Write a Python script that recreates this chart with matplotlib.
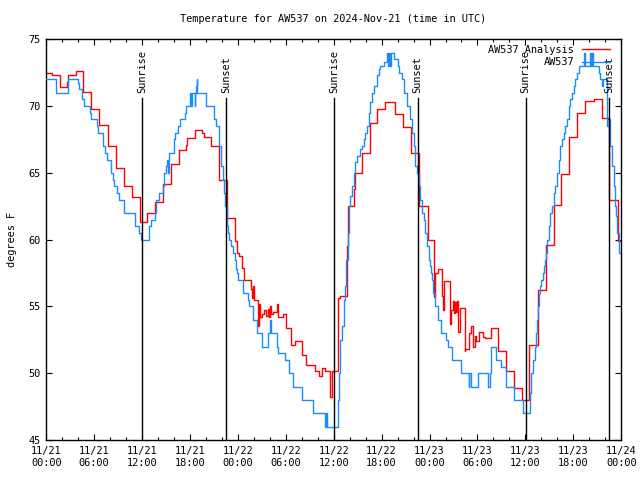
import matplotlib
matplotlib.use("Agg")
import matplotlib.pyplot as plt
import numpy as np

# ── Data (hours since 2024-11-21 00:00 UTC, degrees F) ───────────────────────
obs_hours = [0.0, 1.25, 2.67, 3.96, 4.08, 4.46, 4.79, 5.54, 5.63, 6.33, 6.46,
             7.08, 7.38, 7.58, 8.13, 8.33, 8.54, 8.88, 9.08, 9.71, 9.79, 11.17,
             11.58, 11.83, 12.92, 13.17, 13.58, 13.75, 14.17, 14.58, 14.75, 15.0,
             15.17, 15.25, 15.33, 16.0, 16.17, 16.5, 16.8, 17.42, 17.54, 18.04,
             18.1, 18.2, 18.6, 18.67, 18.75, 18.83, 18.92, 20.0, 20.96, 21.25,
             21.58, 21.83, 22.08, 22.29, 22.42, 22.63, 22.75, 22.92, 23.17, 23.33,
             23.58, 23.75, 23.9, 24.0, 24.69, 25.31, 25.43, 25.85, 26.35, 26.98,
             27.81, 28.02, 28.15, 28.94, 29.07, 29.94, 30.44, 30.94, 31.99, 33.45,
             34.95, 35.0, 35.1, 36.55, 36.63, 36.83, 37.04, 37.25, 37.46, 37.58,
             37.75, 37.88, 38.08, 38.29, 38.5, 38.71, 38.92, 39.25, 39.54, 39.75,
             39.96, 40.17, 40.38, 40.58, 40.79, 41.0, 41.42, 41.63, 41.83, 42.25,
             42.67, 42.8, 42.9, 43.1, 43.2, 43.5, 44.0, 44.17, 44.5, 44.79, 45.17,
             45.5, 45.79, 46.0, 46.21, 46.42, 46.63, 46.83, 47.04, 47.25, 47.46,
             47.67, 47.88, 48.0, 48.13, 48.25, 48.42, 48.67, 49.0, 49.46, 50.0,
             50.33, 50.83, 51.92, 52.92, 53.0, 53.17, 54.04, 55.33, 55.58, 55.71,
             56.33, 56.96, 57.58, 58.63, 59.75, 60.58, 60.75, 60.92, 61.17, 61.33,
             61.46, 61.58, 61.75, 61.88, 62.0, 62.17, 62.29, 62.42, 62.58, 62.71,
             62.92, 63.13, 63.33, 63.54, 63.75, 63.96, 64.17, 64.38, 64.58, 64.79,
             65.0, 65.21, 65.42, 65.63, 65.83, 66.04, 66.25, 66.46, 66.67, 67.3,
             67.45, 68.1, 68.2, 68.4, 68.5, 69.17, 69.38, 69.6, 69.7, 70.2, 70.42,
             70.63, 70.83, 71.04, 71.17, 71.33, 71.46, 71.67]
obs_temps = [72.0, 71.0, 72.0, 71.7, 71.3, 70.5, 70.0, 69.5, 69.0, 68.5, 68.0,
             67.0, 66.5, 66.0, 65.0, 64.5, 64.0, 63.5, 63.0, 62.5, 62.0, 61.0,
             60.5, 60.0, 61.0, 61.5, 62.0, 63.0, 63.5, 64.0, 65.0, 65.5,
             66.0, 65.0, 66.5, 67.5, 68.0, 68.5, 69.0, 69.5, 70.0, 71.0,
             70.0, 71.0, 70.0, 71.0, 71.5, 72.0, 71.0, 70.0, 69.0, 68.5,
             67.0, 65.5, 64.5, 63.5, 62.5, 61.0, 60.5, 60.0, 59.5, 59.0,
             58.5, 57.8, 57.5, 57.0, 56.0, 55.5, 55.0, 54.0, 53.0, 52.0,
             53.0, 54.0, 53.0, 52.0, 51.5, 51.0, 50.0, 49.0, 48.0, 47.0,
             46.0, 47.0, 46.0, 48.0, 50.0, 52.5, 53.5, 55.5, 56.5, 58.5,
             60.5, 62.5, 63.3, 64.0, 65.0, 65.8, 66.3, 66.8, 67.0, 67.5,
             68.0, 68.5, 69.5, 70.3, 71.0, 71.5, 72.3, 72.8, 73.0, 73.3,
             74.0, 73.0, 74.0, 73.0, 74.0, 73.5, 73.0, 72.5, 72.0, 71.0, 70.0,
             69.0, 68.0, 67.0, 65.5, 65.0, 64.0, 63.0, 62.0, 61.5, 60.5,
             59.5, 58.5, 58.0, 57.5, 57.0, 56.0, 55.0, 54.0, 53.0, 52.5,
             52.0, 51.0, 50.0, 49.0, 50.0, 49.0, 50.0, 49.0, 50.0, 52.0,
             51.0, 50.5, 49.0, 48.0, 47.0, 48.5, 50.0, 51.0, 52.0, 53.0,
             54.0, 55.0, 56.0, 56.5, 57.0, 57.5, 58.0, 58.5, 59.0, 60.0,
             61.0, 62.0, 62.5, 63.5, 64.0, 65.0, 66.0, 67.0, 67.5, 68.0,
             68.5, 69.0, 70.0, 70.5, 71.0, 71.5, 72.0, 72.5, 73.0, 74.0,
             73.0, 74.0, 73.0, 74.0, 73.0, 72.5, 72.0, 71.5, 72.0, 68.5, 69.0,
             67.0, 65.5, 64.0, 62.5, 61.8, 60.5, 59.0]

ana_hours = [0.0, 0.75, 1.67, 2.58, 2.75, 3.67, 4.67, 5.67, 6.67, 7.7, 8.7, 9.7,
             10.75, 11.75, 12.67, 13.67, 14.67, 15.67, 16.67, 17.5, 17.67, 18.67,
             19.5, 19.7, 20.67, 21.67, 22.58, 22.67, 23.67, 23.9, 24.08, 24.58,
             24.75, 25.67, 25.75, 25.85, 26.0, 26.58, 26.67, 26.8, 27.0, 27.33,
             27.58, 27.75, 27.9, 28.05, 28.2, 28.4, 28.9, 29.0, 29.6, 30.04, 30.6,
             31.1, 32.0, 32.54, 33.67, 34.2, 34.5, 34.9, 35.58, 35.83, 36.55,
             36.8, 37.7, 37.75, 38.58, 38.7, 39.54, 40.5, 41.42, 42.46, 43.7,
             44.67, 45.67, 46.67, 47.75, 48.58, 48.67, 49.0, 49.58, 49.67, 49.75,
             50.58, 50.7, 51.0, 51.1, 51.2, 51.3, 51.4, 51.58, 51.83, 52.42, 52.5,
             53.0, 53.17, 53.5, 53.67, 53.83, 54.17, 54.67, 54.9, 55.7, 56.54,
             57.58, 58.6, 59.6, 60.5, 61.58, 62.58, 63.58, 64.5, 65.5, 66.5, 67.5,
             68.58, 69.58, 70.33, 70.5, 71.58]
ana_temps = [72.45, 72.3, 71.45, 71.8, 72.35, 72.6, 71.05, 69.75, 68.6, 67.0, 65.4, 64.0,
             63.2, 61.3, 62.0, 62.8, 64.2, 65.7, 66.7, 67.1, 67.6, 68.2,
             68.0, 67.7, 67.0, 64.5, 63.0, 61.6, 59.9, 59.0, 58.8, 57.9,
             57.0, 56.3, 55.6, 56.5, 55.5, 53.5, 55.2, 54.2, 54.4, 54.7,
             54.3, 54.8, 54.2, 55.0, 54.4, 54.6, 55.2, 54.2, 54.4, 53.4, 52.1,
             52.4, 51.4, 50.6, 50.2, 49.8, 50.4, 50.2, 48.2, 50.2, 55.6,
             55.8, 59.5, 62.5, 63.8, 65.0, 66.5, 68.7, 69.8, 70.3, 69.4,
             68.4, 66.5, 62.5, 60.0, 55.7, 57.5, 57.8, 55.8, 54.7, 56.9,
             53.7, 54.7, 55.4, 54.5, 55.3, 54.6, 55.4, 53.1, 54.9, 51.7, 51.8,
             53.0, 53.5, 52.0, 52.8, 52.4, 53.1, 52.7, 52.6, 53.4, 51.7,
             50.2, 48.9, 48.0, 52.1, 56.2, 59.6, 62.6, 64.9, 67.7, 69.5, 70.4,
             70.5, 69.1, 69.0, 63.0, 59.9]

sun_events = [12.0, 22.55, 36.02, 46.5, 60.03, 70.5]
sun_labels = ["Sunrise", "Sunset", "Sunrise", "Sunset", "Sunrise", "Sunset"]

xtick_hours = [0, 6, 12, 18, 24, 30, 36, 42, 48, 54, 60, 66, 72]
xtick_labels = ["11/21\n00:00", "11/21\n06:00", "11/21\n12:00", "11/21\n18:00",
                "11/22\n00:00", "11/22\n06:00", "11/22\n12:00", "11/22\n18:00",
                "11/23\n00:00", "11/23\n06:00", "11/23\n12:00", "11/23\n18:00",
                "11/24\n00:00"]
yticks = [45, 50, 55, 60, 65, 70, 75]

END_HOUR = 72.0

# ── Figure ────────────────────────────────────────────────────────────────────
plt.rcParams["font.family"] = ["DejaVu Sans Mono"]
fs = 7.4

fig = plt.figure(figsize=(6.4, 4.8), dpi=100)
ax = fig.add_axes([46.2 / 640, 1 - 440 / 480, (621.2 - 46.2) / 640, (440 - 39.3) / 480])

ax.step(ana_hours + [END_HOUR], ana_temps + [ana_temps[-1]], where="post",
        color="#ff0000", lw=1.0, label="AW537 Analysis", zorder=2)
ax.step(obs_hours + [END_HOUR], obs_temps + [obs_temps[-1]], where="post",
        color="#1a8cff", lw=1.0, label="AW537", zorder=3)

for h, lab in zip(sun_events, sun_labels):
    ax.plot([h, h], [45, 70.6], color="black", lw=1.0, zorder=4)
    ax.text(h, 71.0, lab, rotation=90, ha="center", va="bottom",
            fontsize=fs, zorder=5)

ax.set_xlim(0, END_HOUR)
ax.set_ylim(45, 75)
ax.set_xticks(xtick_hours)
ax.set_xticklabels(xtick_labels, fontsize=fs, linespacing=1.25)
ax.set_xticks(np.arange(0, 73, 2), minor=True)
ax.set_yticks(yticks)
ax.set_yticklabels([str(v) for v in yticks], fontsize=fs)
ax.tick_params(which="both", direction="in", top=True, right=True, width=0.8)
ax.tick_params(which="major", length=4.5, pad=4)
ax.tick_params(which="minor", length=2.5)
for sp in ax.spines.values():
    sp.set_linewidth(1.0)

ax.set_ylabel("degrees F", fontsize=fs, labelpad=8)
fig.text(0.521, 0.96, "Temperature for AW537 on 2024-Nov-21 (time in UTC)",
         ha="center", va="center", fontsize=fs)

leg = ax.legend(loc="upper right", bbox_to_anchor=(0.993, 1.004), frameon=False,
                fontsize=fs, markerfirst=False, handlelength=2.7,
                handletextpad=0.8, labelspacing=0.25, borderaxespad=0.3)
for t in leg.get_texts():
    t.set_ha("right")
leg.set_zorder(6)

fig.savefig("out.png", dpi=100)
